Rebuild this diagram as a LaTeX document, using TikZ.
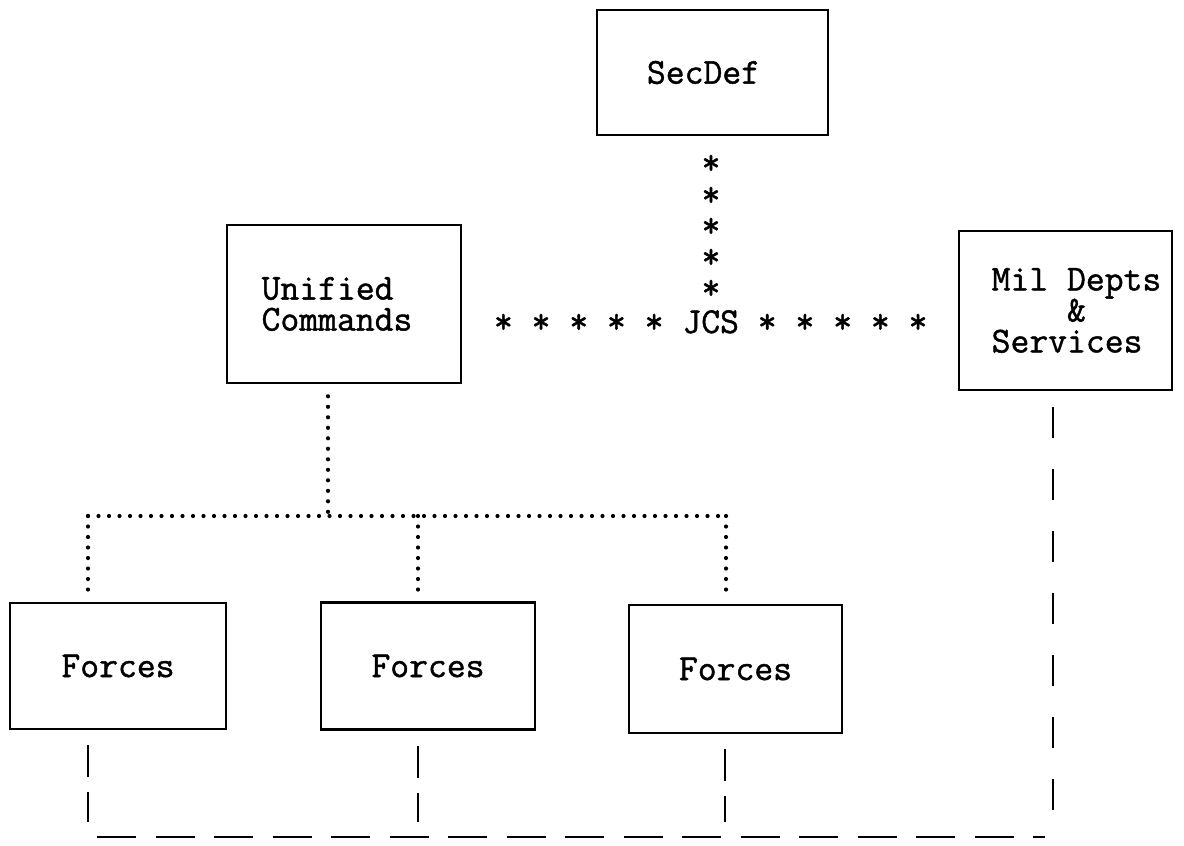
\documentclass[tikz,border=0pt]{standalone}
\usepackage{fontspec}
\setmonofont{Latin Modern Mono}[FakeBold=1.2]
\usetikzlibrary{calc}

\tikzset{
  orgbox/.style={draw=black, line width=2.6pt, fill=white, inner sep=0pt,
    font=\ttfamily\fontsize{36.6}{31}\selectfont, align=left},
  startxt/.style={font=\ttfamily\fontsize{36.6}{31}\selectfont, inner sep=0pt},
  dotline/.style={line width=4.2pt, line cap=round, dash pattern=on 0pt off 10.5pt},
  dashv/.style={line width=2.6pt, dash pattern=on 32pt off 15pt},
  dashr/.style={line width=2.6pt, dash pattern=on 31pt off 31pt},
  dashh/.style={line width=2.6pt, dash pattern=on 39pt off 19.5pt},
}

\begin{document}
\begin{tikzpicture}[x=1pt, y=-1pt]
\useasboundingbox (0,0) rectangle (1184,846);
\fill[white] (0,0) rectangle (1184,846);

% boxes
\node[orgbox, minimum width=231pt, minimum height=125pt] (secdef) at (712.5,72.5)
  {SecDef\hspace*{18pt}};
\node[orgbox, minimum width=234pt, minimum height=158pt] (uc) at (344,304)
  {Unified\\Commands\hspace*{14pt}};
\node[orgbox, minimum width=213pt, minimum height=159pt] (mil) at (1065.5,310.5)
  {\hspace*{22pt}Mil Depts\\\hspace*{22pt}\hphantom{Mil }\&\\\hspace*{22pt}Services};
\node[orgbox, minimum width=216pt, minimum height=126pt] (f1) at (118,666) {Forces};
\node[orgbox, minimum width=214pt, minimum height=127pt] (f2) at (428,666) {Forces};
\node[orgbox, minimum width=213pt, minimum height=128pt] (f3) at (735.5,669) {Forces};

% JCS with its star links
\node[startxt, anchor=base] (jcs) at (710.7,333) {* * * * * JCS * * * * *};
\foreach \i/\y in {1/163,2/195,3/226,4/257,5/288}
  \node[startxt, anchor=base] (s\i) at (711,\y+11) {*};

% dotted command lines
\coordinate (hub) at (328,516);
\coordinate (hl) at (88,516);
\coordinate (hm) at (418,516);
\coordinate (hr) at (726,516);
\draw[dotline, shorten <=12pt] (uc.south -| hub) -- (hub);
\draw[dotline] (hl) -- (hr);
\draw[dotline, shorten >=6pt] (hl) -- (f1.north -| hl);
\draw[dotline, shorten >=6pt] (hm) -- (f2.north -| hm);
\draw[dotline, shorten >=6pt] (hr) -- (f3.north -| hr);

% dashed support lines
\coordinate (bl) at (97,837);
\coordinate (br) at (1045,837);
\coordinate (c1) at (88,822);
\coordinate (c2) at (418,822);
\coordinate (c3) at (725,822);
\coordinate (cr) at (1053,813);
\draw[dashv] ($(f1.south -| c1)+(0,15)$) -- (c1);
\draw[dashv] ($(f2.south -| c2)+(0,15)$) -- (c2);
\draw[dashv] ($(f3.south -| c3)+(0,15)$) -- (c3);
\draw[dashr] ($(mil.south -| cr)+(0,16)$) -- (cr);
\draw[dashh] (bl) -- (br);
\end{tikzpicture}
\end{document}
